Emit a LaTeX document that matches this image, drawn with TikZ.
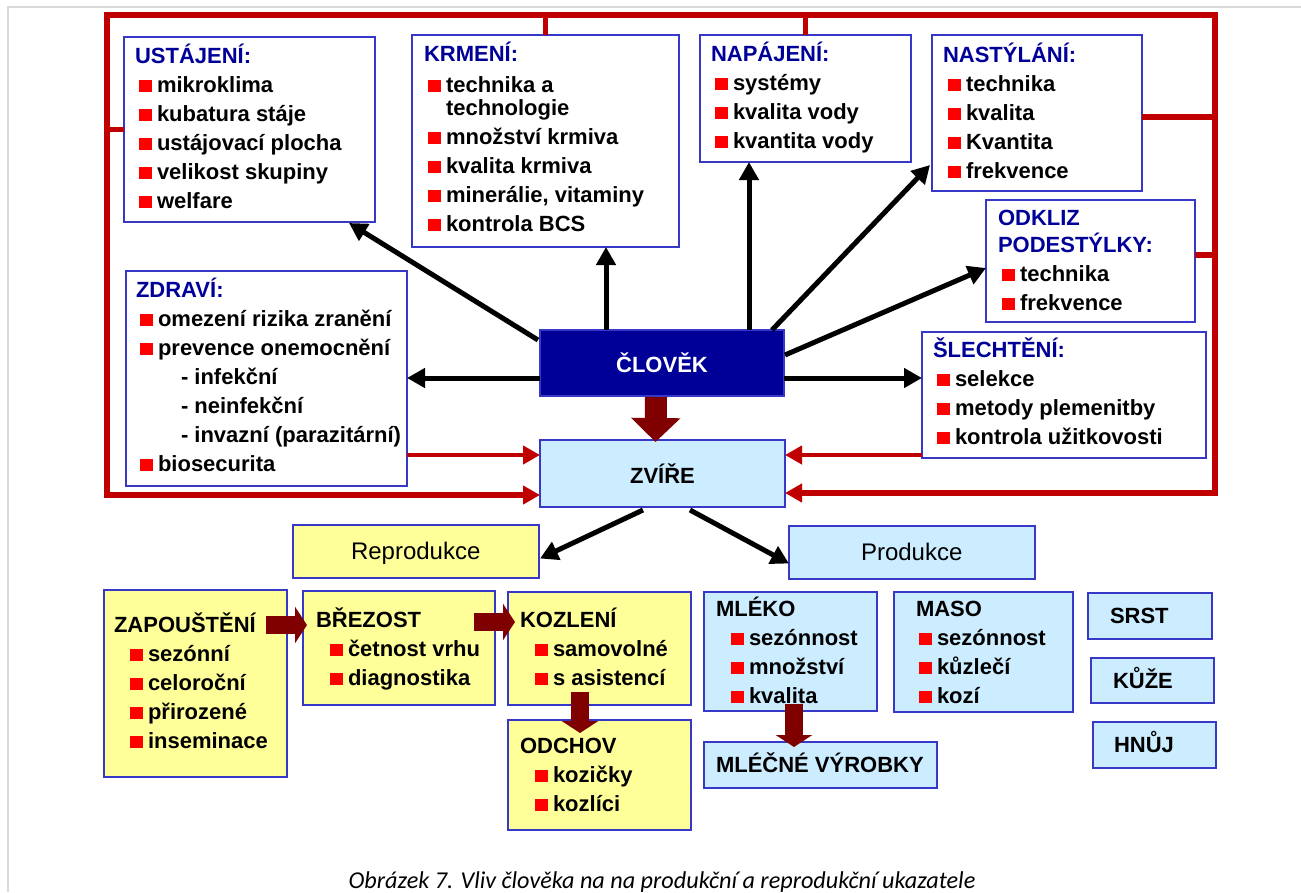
\documentclass[tikz,border=0pt]{standalone}
\usepackage{fontspec}
\setmainfont{Liberation Sans}
\newfontfamily\capfont{Carlito}
\usetikzlibrary{arrows.meta,calc}
\definecolor{hblue}{RGB}{0,0,153}
\definecolor{bline}{RGB}{55,55,200}
\definecolor{fyel}{RGB}{255,255,153}
\definecolor{fblu}{RGB}{204,236,255}
\definecolor{bulred}{RGB}{255,0,0}
\definecolor{frred}{RGB}{192,0,0}
\definecolor{darkr}{RGB}{128,0,0}
\definecolor{gframe}{RGB}{217,217,217}
\newlength\bind
\newcommand\itm[1]{\hbox{\hspace*{\bind}\textcolor{bulred}{\rule{12.5pt}{12.5pt}}\hspace{5.5pt}#1}}
\newcommand\ttl[1]{\hbox{\textcolor{hblue}{#1}}}
\newcommand\stk[1]{\vtop{\baselineskip=29pt\lineskiplimit=-100pt\lineskip=0pt #1}}
\newcommand\mkbox[7]{\node[#2,anchor=north west,minimum width={(#5-#3)*1pt},minimum height={(#6-#4)*1pt}] (#1) at (#3,#4) {#7};}
\begin{document}
\begin{tikzpicture}[x=1pt,y=-1pt,
  every node/.style={inner sep=0pt, outer sep=0pt},
  font=\bfseries\fontsize{22}{29}\selectfont,
  wbox/.style={draw=bline, line width=1.3pt, fill=white},
  ybox/.style={wbox, fill=fyel},
  lbox/.style={wbox, fill=fblu},
  cbox/.style={draw=bline, line width=1.3pt, fill=hblue, text=white},
  txt/.style={anchor=base west},
  blk/.style={draw=black, line width=5pt, -{Triangle[length=18pt,width=19pt]}},
  redarr/.style={draw=frred, line width=4.8pt, -{Triangle[length=17pt,width=18pt]}},
  redboth/.style={draw=frred, line width=5.5pt, {Triangle[length=17pt,width=18pt]}-{Triangle[length=17pt,width=18pt]}},
  redln/.style={draw=frred, line width=5.5pt},
  barr/.style={draw=darkr, line width=18pt, -{Triangle[length=12pt,width=36pt]}},
]
\useasboundingbox (0,0) rectangle (1301,892);
\fill[white] (0,0) rectangle (1301,892);
% gray page frame
\draw[gframe, line width=2.5pt] (8,892) -- (8,7) -- (1301,7);

% top boxes
\mkbox{ust}{wbox}{124}{37}{375}{222}{}
\mkbox{kr}{wbox}{412}{35}{679}{247}{}
\mkbox{np}{wbox}{700}{35}{911}{162}{}
\mkbox{ns}{wbox}{932}{35}{1142}{191}{}
\mkbox{od}{wbox}{986}{200}{1195}{322}{}
\mkbox{zd}{wbox}{126}{271}{407}{486}{}
\mkbox{sl}{wbox}{922}{332}{1206}{458}{}
\mkbox{cl}{cbox}{540}{330}{784}{396}{ČLOVĚK}
\mkbox{zv}{lbox}{540}{440}{785}{507}{ZVÍŘE}
% lower boxes
\mkbox{rep}{ybox}{293}{525}{539}{578}{}
\mkbox{prod}{lbox}{789}{526}{1035}{579}{}
\mkbox{zap}{ybox}{104}{590}{287}{777}{}
\mkbox{bre}{ybox}{303}{591}{495}{705}{}
\mkbox{koz}{ybox}{508}{592}{691}{705}{}
\mkbox{odch}{ybox}{508}{720}{691}{830}{}
\mkbox{ml}{lbox}{704}{592}{877}{711}{}
\mkbox{ma}{lbox}{894}{592}{1073}{712}{}
\mkbox{srst}{lbox}{1088}{593}{1212}{639}{}
\mkbox{kuze}{lbox}{1091}{658}{1214}{703}{}
\mkbox{hnuj}{lbox}{1093}{722}{1216}{768}{}
\mkbox{mv}{lbox}{704}{742}{937}{788}{}

% texts
\node[txt] (ustT) at (135,63) {\setlength\bind{4pt}\stk{\ttl{USTÁJENÍ:}\itm{mikroklima}\itm{kubatura stáje}\itm{ustájovací plocha}\itm{velikost skupiny}\itm{welfare}}};
\node[txt] (krT) at (424,61) {\setlength\bind{4pt}\stk{\ttl{KRMENÍ:}\kern2pt\itm{technika a}\kern-6pt\hbox{\hspace*{22pt}technologie}\itm{množství krmiva}\itm{kvalita krmiva}\itm{minerálie, vitaminy}\itm{kontrola BCS}}};
\node[txt] (npT) at (711,61) {\setlength\bind{4pt}\stk{\ttl{NAPÁJENÍ:}\itm{systémy}\itm{kvalita vody}\itm{kvantita vody}}};
\node[txt] (nsT) at (943,62) {\setlength\bind{5pt}\stk{\ttl{NASTÝLÁNÍ:}\itm{technika}\itm{kvalita}\itm{Kvantita}\itm{frekvence}}};
\node[txt] (odT) at (998,225) {\setlength\bind{4pt}\stk{\ttl{ODKLIZ}\kern-2pt\ttl{PODESTÝLKY:}\itm{technika}\itm{frekvence}}};
\node[txt] (slT) at (933,357) {\setlength\bind{4pt}\stk{\ttl{ŠLECHTĚNÍ:}\itm{selekce}\itm{metody plemenitby}\itm{kontrola užitkovosti}}};
\node[txt] (zdT) at (136,297) {\setlength\bind{4pt}\stk{\ttl{ZDRAVÍ:}\itm{omezení rizika zranění}\itm{prevence onemocnění}\hbox{\hspace*{45pt}- infekční}\hbox{\hspace*{45pt}- neinfekční}\hbox{\hspace*{45pt}- invazní (parazitární)}\itm{biosecurita}}};

\node[txt] (zapT) at (114,632) {\setlength\bind{16pt}\stk{\hbox{ZAPOUŠTĚNÍ}\itm{sezónní}\itm{celoroční}\itm{přirozené}\itm{inseminace}}};
\node[txt] (breT) at (316,627) {\setlength\bind{14pt}\stk{\hbox{BŘEZOST}\itm{četnost vrhu}\itm{diagnostika}}};
\node[txt] (kozT) at (520,627) {\setlength\bind{15pt}\stk{\hbox{KOZLENÍ}\itm{samovolné}\itm{s asistencí}}};
\node[txt] (odchT) at (520,753) {\setlength\bind{15pt}\stk{\hbox{ODCHOV}\itm{kozičky}\itm{kozlíci}}};
\node[txt] (mlT) at (716,616) {\setlength\bind{15pt}\stk{\hbox{MLÉKO}\itm{sezónnost}\itm{množství}\itm{kvalita}}};
\node[txt] (maT) at (916,616) {\setlength\bind{3pt}\stk{\hbox{MASO}\itm{sezónnost}\itm{kůzlečí}\itm{kozí}}};
\node[txt] (srT) at (1110,623) {SRST};
\node[txt] (kuT) at (1113,688) {KŮŽE};
\node[txt] (hnT) at (1114,752) {HNŮJ};
\node[txt] (mvT) at (716,772) {MLÉČNÉ VÝROBKY};
\node[txt, font=\mdseries\fontsize{24}{28}\selectfont] (repT) at (351,559) {Reprodukce};
\node[txt, font=\mdseries\fontsize{24}{28}\selectfont] (prodT) at (861,560) {Produkce};

% red frame and connectors
\coordinate (fTL) at (107,15);
\coordinate (fTR) at (1215,15);
\coordinate (fBL) at (107,495);
\coordinate (fBR) at (1215,493);
\coordinate (zrow) at (0,455);
\coordinate (crow) at (0,378);
\draw[redboth] (zv.west |- fBL) -- (fBL) -- (fTL) -- (fTR) -- (fBR) -- (zv.east |- fBR);
\draw[redln] (ust.west) -- (ust.west -| fTL);
\draw[redln] (kr.north) -- (kr.north |- fTL);
\draw[redln] (np.north) -- (np.north |- fTL);
\draw[redln] ($(ns.east)+(0,4)$) -- ($(ns.east -| fTR)+(0,4)$);
\draw[redln] ($(od.east)+(0,-6)$) -- ($(od.east -| fTR)+(0,-6)$);
\draw[redarr] (zd.east |- zrow) -- (zv.west |- zrow);
\draw[redarr] (sl.west |- zrow) -- (zv.east |- zrow);

% black arrows
\draw[blk] (cl.west |- crow) -- (zd.east |- crow);
\draw[blk] (cl.east |- crow) -- (sl.west |- crow);
\draw[blk] ($(cl.north west)+(-2,10)$) -- ($(ust.south east)+(-26,1)$);
\draw[blk] ($(cl.north west)+(66,0)$) -- ($(cl.north west |- kr.south)+(66,0)$);
\draw[blk] ($(cl.north west)+(209,0)$) -- ($(cl.north west |- np.south)+(209,0)$);
\draw[blk] ($(cl.north east)+(-12,0)$) -- ($(ns.south west)+(-2,-26)$);
\draw[blk] ($(cl.east)+(1,-8)$) -- ($(od.west)+(0,7)$);
\draw[blk] ($(zv.south west)+(103,3)$) -- ($(rep.east)+(1,7)$);
\draw[blk] ($(zv.south west)+(150,3)$) -- ($(prod.west)+(0,11)$);

% block arrows
\draw[barr, line width=22pt, -{Triangle[length=24pt,width=48pt]}] ($(cl.south)+(-6,1)$) -- ($(zv.north)+(-7,2)$);
\coordinate (a1) at ($(zap.north east)+(-21,35)$);
\draw[barr] (a1) -- ($(a1 -| bre.west)+(4,0)$);
\coordinate (a2) at ($(bre.north east)+(-21,31)$);
\draw[barr] (a2) -- ($(a2 -| koz.west)+(7,0)$);
\coordinate (a3) at ($(koz.south west)+(72,-13)$);
\draw[barr] (a3) -- ($(a3 |- odch.north)+(0,13)$);
\coordinate (a4) at ($(ml.south west)+(90,-7)$);
\draw[barr] (a4) -- ($(a4 |- mv.north)+(0,5)$);

% caption
\node[anchor=base] (capT) at (662,888) {\capfont\itshape\mdseries\fontsize{24.2}{28}\selectfont Obrázek 7. Vliv člověka na na produkční a reprodukční ukazatele};
\end{tikzpicture}
\end{document}
